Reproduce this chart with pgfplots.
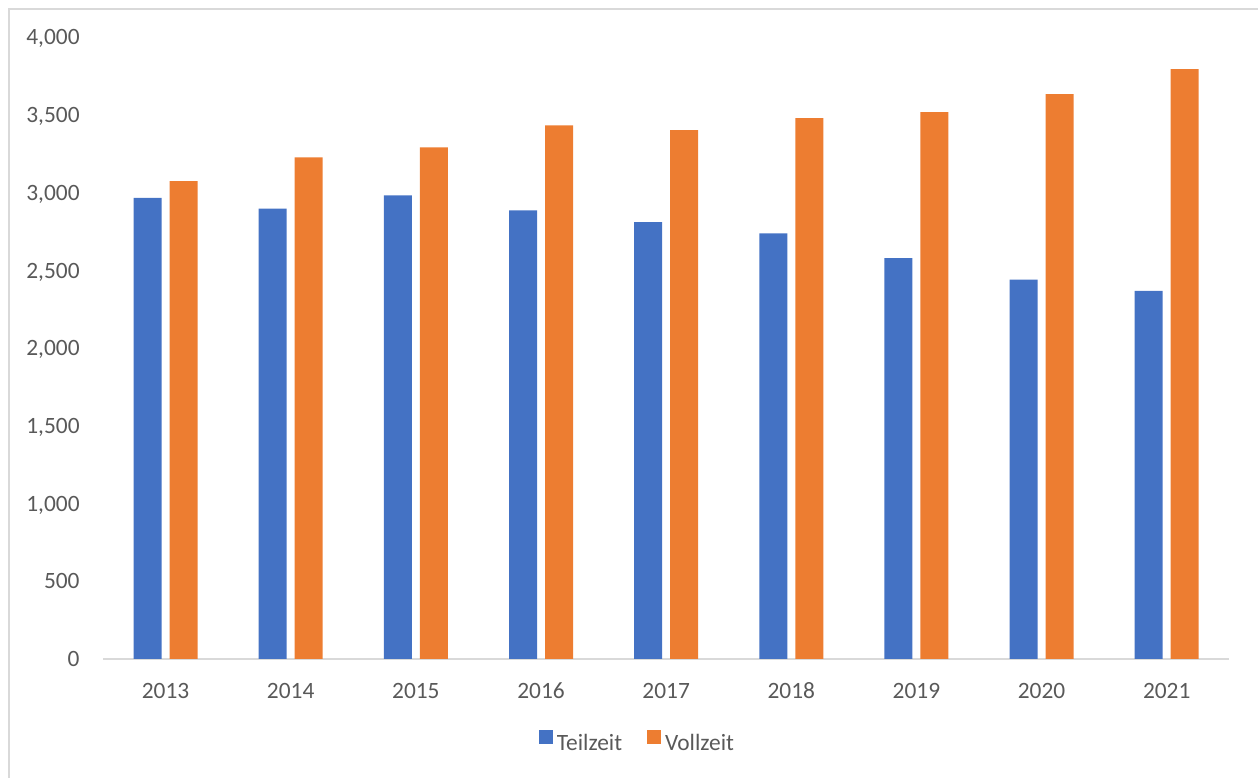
\documentclass[border=0pt]{standalone}
\usepackage{pgfplots}
\pgfplotsset{compat=1.18}
\usepackage{fontspec}
\setmainfont{Carlito}

\definecolor{tzblue}{HTML}{4472C4}
\definecolor{vzorange}{HTML}{ED7D31}
\definecolor{txtgray}{HTML}{595959}
\definecolor{linegray}{HTML}{D9D9D9}

\begin{document}
\begin{tikzpicture}
    \useasboundingbox (0,0) rectangle (629bp,389bp);
    % outer chart frame (left and top edges visible)
    \draw[linegray, line width=0.9bp] (4.5bp,0) -- (4.5bp,384.5bp) -- (629bp,384.5bp);
    \begin{axis}[
        at={(51.5bp,59.5bp)}, anchor=south west,
        scale only axis,
        width=563.15bp, height=310.75bp,
        ybar=4bp, bar width=14bp,
        xmin=-0.5, xmax=8.5,
        ymin=0, ymax=4000,
        xtick=data,
        xticklabels={2013,2014,2015,2016,2017,2018,2019,2020,2021},
        ytick={0,500,...,4000},
        major tick length=0pt,
        axis x line*=bottom,
        axis y line*=left,
        x axis line style={linegray, line width=0.75bp, -},
        y axis line style={draw=none},
        font=\fontsize{11.7bp}{14bp}\selectfont,
        tick label style={text=txtgray, inner sep=0pt},
        xticklabel style={anchor=base, yshift=-19.6bp},
        yticklabel style={anchor=base east, xshift=-11.5bp, yshift=-3.75bp},
        /pgf/number format/.cd, fixed, 1000 sep={,}, assume math mode=true,
        /pgfplots/.cd,
        legend columns=2,
        legend style={at={(axis description cs:0.4754,-0.1368)}, anchor=center,
            draw=none, fill=none, text=txtgray, inner sep=0pt,
            /tikz/every even column/.append style={column sep=10.5bp}},
        legend cell align=left,
        legend image code/.code={\fill[#1] (0bp,-0.2bp) rectangle (7bp,6.8bp);},
    ]
    \addplot[fill=tzblue, draw=none] coordinates {
        (0,2967) (1,2898) (2,2984) (3,2887) (4,2812)
        (5,2739) (6,2580) (7,2441) (8,2370)
    };
    \addplot[fill=vzorange, draw=none] coordinates {
        (0,3076) (1,3228) (2,3293) (3,3434) (4,3404)
        (5,3481) (6,3520) (7,3636) (8,3797)
    };
    \legend{Teilzeit, Vollzeit}
    \end{axis}
\end{tikzpicture}
\end{document}
